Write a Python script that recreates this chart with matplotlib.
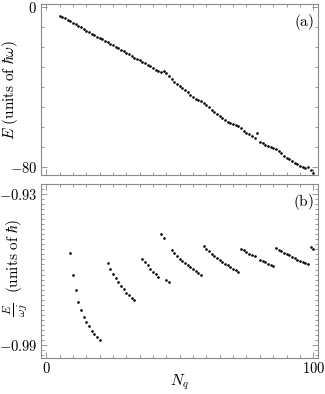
import numpy as np
import matplotlib
matplotlib.use("Agg")
import matplotlib.pyplot as plt
from matplotlib.ticker import FixedLocator, MultipleLocator, NullFormatter

plt.rcParams['mathtext.fontset'] = 'cm'
plt.rcParams['font.family'] = 'serif'
plt.rcParams['font.serif'] = ['DejaVu Serif']

# panel (a): energy vs number of qubits
nq_a = list(range(5, 101))
energy = [-4.4, -4.9, -5.7, -6.5, -7.2, -7.9, -8.7, -9.5, -10.2, -11.0,
          -11.9, -12.5, -13.4, -14.2, -15.0, -15.7, -16.2, -16.9, -17.5, -18.4,
          -19.2, -20.0, -20.7, -21.5, -22.2, -23.1, -23.7, -24.6, -25.4, -26.1,
          -26.7, -27.6, -28.2, -29.1, -29.7, -30.6, -31.7, -32.1, -32.4, -31.9,
          -32.9, -34.6, -36.2, -37.4, -38.6, -39.6, -40.6, -41.6, -42.8, -44.1,
          -45.3, -46.1, -46.7, -47.2, -47.9, -48.9, -50.3, -51.5, -52.6, -53.8,
          -54.8, -55.8, -56.6, -57.4, -58.0, -58.5, -59.0, -59.6, -60.8, -62.0,
          -63.0, -63.8, -64.6, -65.5, -63.3, -67.5, -68.3, -69.0, -69.6, -70.0,
          -70.5, -71.1, -72.0, -73.1, -74.5, -75.5, -76.3, -77.2, -78.0, -78.8,
          -79.7, -80.2, -80.5, -80.0, -81.7, -83.0]

# panel (b): scaled energy (point 79 not shown)
nq_b = list(range(9, 21)) + list(range(23, 34)) + list(range(36, 79)) + list(range(80, 101))
e_scaled = [-0.9533, -0.9621, -0.9682, -0.9729, -0.9762, -0.9790, -0.9809, -0.9826, -0.9843, -0.9856, -0.9867, -0.9880,
            -0.9573, -0.9597, -0.9617, -0.9635, -0.9651, -0.9666, -0.9679, -0.9692, -0.9703, -0.9712, -0.9722,
            -0.9557, -0.9570, -0.9583, -0.9597, -0.9609, -0.9619, -0.9631,
            -0.9459, -0.9476, -0.9642, -0.9651,
            -0.9523, -0.9535, -0.9546, -0.9558, -0.9567, -0.9575, -0.9583, -0.9591, -0.9599, -0.9606, -0.9615, -0.9622,
            -0.9508, -0.9518, -0.9528, -0.9538, -0.9546, -0.9554, -0.9562, -0.9570, -0.9577, -0.9584, -0.9591, -0.9597, -0.9603, -0.9608,
            -0.9519, -0.9524, -0.9532, -0.9540, -0.9544, -0.9546,
            -0.9562, -0.9566, -0.9572, -0.9578, -0.9582, -0.9588,
            -0.9515, -0.9523, -0.9528, -0.9535, -0.9539, -0.9544, -0.9550, -0.9556, -0.9562, -0.9567, -0.9571, -0.9574, -0.9579,
            -0.9511, -0.9519]

spine_col = '#8a8a8a'
W, H = 325, 394

fig = plt.figure(figsize=(3.25, 3.94), dpi=100)
ax1 = fig.add_axes([0.1252, 0.5558, 0.8542, 0.4332])
ax2 = fig.add_axes([0.1252, 0.0926, 0.8542, 0.4396])

for ax in (ax1, ax2):
    for s in ax.spines.values():
        s.set_color(spine_col)
        s.set_linewidth(0.8)
    ax.set_xlim(-2.1, 101.9)
    ax.xaxis.set_major_locator(FixedLocator([0, 100]))
    ax.xaxis.set_minor_locator(MultipleLocator(5))
    ax.tick_params(which='both', direction='in', top=True, right=True,
                   color=spine_col, width=0.6, labelsize=10.5, pad=2.5)
    ax.tick_params(which='major', length=4)
    ax.tick_params(which='minor', length=2.5)

ax1.plot(nq_a, energy, 'o', color='black', ms=1.9, mec='none')
ax1.set_ylim(-84.2, 1.35)
ax1.yaxis.set_major_locator(FixedLocator([0, -80]))
ax1.yaxis.set_minor_locator(MultipleLocator(10))
ax1.set_yticklabels([r'$0$', r'$-80$'])
ax1.xaxis.set_major_formatter(NullFormatter())
ax1.set_ylabel(r'$E\ (\mathrm{units\ of}\ \hbar\omega)$', fontsize=11)
ax1.yaxis.set_label_coords(-0.075, 0.5)
ax1.text(0.985, 0.955, r'$\mathrm{(a)}$', transform=ax1.transAxes,
         ha='right', va='top', fontsize=11)

ax2.plot(nq_b, e_scaled, 'o', color='black', ms=1.9, mec='none')
ax2.set_ylim(-0.99497, -0.92615)
ax2.yaxis.set_major_locator(FixedLocator([-0.93, -0.99]))
ax2.yaxis.set_minor_locator(MultipleLocator(0.002))
ax2.set_yticklabels([r'$-0.93$', r'$-0.99$'])
ax2.set_xticklabels([r'$0$', r'$100$'])
# y label of panel (b): small fraction followed by the units
fig.text(15 / W, 1 - 310 / H, r'$\frac{E}{\omega j}$', rotation=90,
         ha='center', va='center', fontsize=12)
fig.text(13.5 / W, 1 - 256 / H, r'$(\mathrm{units\ of}\ \hbar)$', rotation=90,
         ha='center', va='center', fontsize=11)
ax2.set_xlabel(r'$N_q$', fontsize=11)
ax2.xaxis.set_label_coords(0.5, -0.085)
ax2.text(0.985, 0.955, r'$\mathrm{(b)}$', transform=ax2.transAxes,
         ha='right', va='top', fontsize=11)

fig.savefig('out.png', dpi=100)
